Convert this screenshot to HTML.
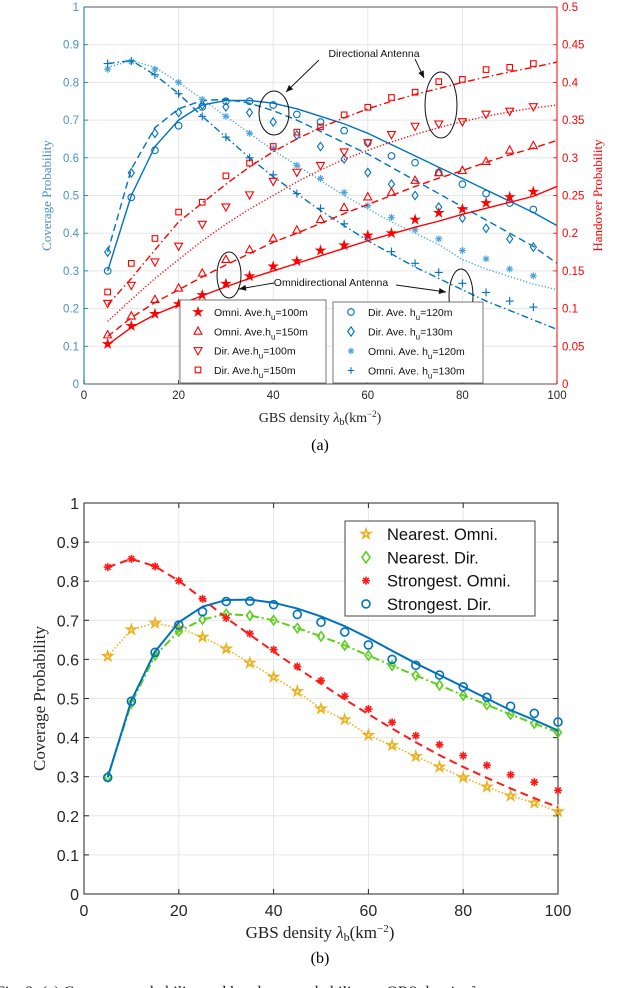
<!DOCTYPE html>
<html><head><meta charset="utf-8"><style>
body{margin:0;background:#fff;width:640px;height:988px;overflow:hidden}
svg{display:block}
</style></head><body>
<svg id="fig" width="640" height="988" xmlns="http://www.w3.org/2000/svg">
<rect width="640" height="988" fill="#fff"/>
<g id="top"></g>
<g id="bot"></g>
<text x="320" y="450" font-family="Liberation Serif, serif" font-size="16" text-anchor="middle">(a)</text>
<text x="320" y="963" font-family="Liberation Serif, serif" font-size="16" text-anchor="middle">(b)</text>
<text x="-4" y="997" font-family="Liberation Serif, serif" font-size="16" fill="#222">Fig. 2: (a) Coverage probability and handover probability vs GBS density λ, w</text>
</svg>
<script>
// ---------- data: chart (a) ----------
const xsA = [5,10,15,20,25,30,35,40,45,50,55,60,65,70,75,80,85,90,95];
const xsLine = [5,10,15,20,25,30,35,40,45,50,55,60,65,70,75,80,85,90,95,100];
const dir120Pts = [0.30,0.495,0.62,0.685,0.735,0.75,0.75,0.74,0.715,0.695,0.672,0.64,0.605,0.587,0.561,0.53,0.505,0.48,0.463];
const dir120Line = [0.30,0.50,0.63,0.70,0.74,0.752,0.752,0.745,0.73,0.71,0.69,0.665,0.635,0.605,0.575,0.545,0.515,0.485,0.455,0.42];
const dir130Pts = [0.35,0.56,0.665,0.72,0.74,0.735,0.72,0.695,0.66,0.63,0.597,0.561,0.53,0.5,0.469,0.44,0.413,0.385,0.363];
const dir130Line = [0.35,0.57,0.68,0.73,0.752,0.755,0.745,0.725,0.70,0.67,0.64,0.61,0.575,0.54,0.505,0.47,0.435,0.40,0.365,0.32];
const omni120Pts = [0.835,0.855,0.835,0.80,0.755,0.71,0.665,0.625,0.58,0.545,0.508,0.473,0.442,0.409,0.385,0.354,0.332,0.305,0.287];
const omni120Line = [0.84,0.858,0.84,0.80,0.755,0.71,0.665,0.62,0.58,0.54,0.50,0.465,0.43,0.40,0.37,0.33,0.305,0.285,0.265,0.25];
const omni130Pts = [0.85,0.857,0.82,0.77,0.71,0.655,0.60,0.555,0.505,0.466,0.425,0.39,0.351,0.32,0.296,0.267,0.243,0.22,0.204];
const omni130Line = [0.85,0.858,0.82,0.77,0.71,0.655,0.60,0.55,0.505,0.46,0.42,0.38,0.345,0.31,0.28,0.25,0.22,0.195,0.17,0.145];
const hoOmni100Pts = [0.053,0.077,0.093,0.106,0.118,0.133,0.143,0.156,0.163,0.177,0.184,0.197,0.2,0.218,0.227,0.232,0.24,0.248,0.255];
const hoOmni100Line = [0.052,0.075,0.092,0.105,0.117,0.129,0.14,0.15,0.16,0.17,0.18,0.19,0.199,0.208,0.216,0.225,0.233,0.241,0.249,0.262];
const hoOmni150Pts = [0.065,0.09,0.112,0.127,0.147,0.165,0.178,0.193,0.204,0.218,0.234,0.248,0.254,0.27,0.28,0.283,0.295,0.31,0.316];
const hoOmni150Line = [0.063,0.088,0.108,0.125,0.142,0.158,0.173,0.188,0.2,0.213,0.226,0.238,0.25,0.262,0.273,0.283,0.294,0.304,0.313,0.323];
const hoDir100Pts = [0.107,0.131,0.162,0.183,0.212,0.235,0.251,0.269,0.281,0.29,0.308,0.32,0.331,0.342,0.345,0.348,0.358,0.362,0.368];
const hoDir100Line = [0.083,0.112,0.14,0.165,0.19,0.212,0.232,0.25,0.268,0.284,0.298,0.31,0.321,0.331,0.34,0.348,0.355,0.361,0.366,0.37];
const hoDir150Pts = [0.122,0.16,0.193,0.228,0.241,0.276,0.293,0.315,0.334,0.341,0.357,0.367,0.38,0.387,0.401,0.404,0.417,0.42,0.425];
const hoDir150Line = [0.105,0.14,0.178,0.215,0.24,0.265,0.288,0.308,0.325,0.34,0.353,0.365,0.375,0.384,0.392,0.4,0.407,0.414,0.42,0.427];
const xTicks = [0,20,40,60,80,100];
const yTicksA = [0,0.1,0.2,0.3,0.4,0.5,0.6,0.7,0.8,0.9,1];
const yTicksR = [0,0.05,0.1,0.15,0.2,0.25,0.3,0.35,0.4,0.45,0.5];
// ---------- data: chart (b) ----------
const xsB = [5,10,15,20,25,30,35,40,45,50,55,60,65,70,75,80,85,90,95,100];
const nearOmniPts = [0.608,0.676,0.693,0.68,0.657,0.627,0.591,0.555,0.518,0.474,0.446,0.406,0.38,0.352,0.325,0.298,0.274,0.251,0.233,0.211];
const nearDirPts = [0.30,0.488,0.61,0.672,0.702,0.716,0.712,0.70,0.68,0.659,0.636,0.61,0.584,0.559,0.534,0.508,0.484,0.459,0.436,0.413];
const strOmniPts = [0.836,0.857,0.838,0.801,0.755,0.706,0.666,0.625,0.582,0.546,0.506,0.473,0.439,0.405,0.382,0.354,0.329,0.305,0.286,0.265];
const strOmniLine = [0.836,0.857,0.838,0.801,0.755,0.706,0.663,0.62,0.578,0.538,0.498,0.46,0.423,0.388,0.355,0.325,0.297,0.27,0.245,0.222];
const strDirPts = [0.298,0.493,0.618,0.688,0.722,0.748,0.749,0.74,0.715,0.695,0.67,0.637,0.60,0.585,0.56,0.53,0.503,0.48,0.462,0.44];
const strDirLine = [0.298,0.495,0.62,0.695,0.735,0.752,0.753,0.745,0.73,0.71,0.685,0.655,0.622,0.59,0.56,0.53,0.50,0.47,0.445,0.418];

const NS='http://www.w3.org/2000/svg';
function mk(parent,tag,attrs){const e=document.createElementNS(NS,tag);for(const k in attrs)e.setAttribute(k,attrs[k]);parent.appendChild(e);return e;}
function txt(parent,x,y,s,attrs){const e=mk(parent,'text',Object.assign({x:x,y:y},attrs));e.textContent=s;return e;}

function marker(g,type,x,y,s,col,lw){
  let e;
  if(type==='o'){e=mk(g,'circle',{cx:x,cy:y,r:s,fill:'none',stroke:col,'stroke-width':lw});}
  else if(type==='s'){e=mk(g,'rect',{x:x-s,y:y-s,width:2*s,height:2*s,fill:'none',stroke:col,'stroke-width':lw});}
  else if(type==='d'){e=mk(g,'polygon',{points:`${x},${y-s*1.4} ${x+s},${y} ${x},${y+s*1.4} ${x-s},${y}`,fill:'none',stroke:col,'stroke-width':lw});}
  else if(type==='^'){e=mk(g,'polygon',{points:`${x},${y-s*1.2} ${x+s*1.1},${y+s*0.8} ${x-s*1.1},${y+s*0.8}`,fill:'none',stroke:col,'stroke-width':lw});}
  else if(type==='v'){e=mk(g,'polygon',{points:`${x},${y+s*1.2} ${x+s*1.1},${y-s*0.8} ${x-s*1.1},${y-s*0.8}`,fill:'none',stroke:col,'stroke-width':lw});}
  else if(type==='p'||type==='P'){let pts=[];for(let i=0;i<10;i++){const r=i%2?s*0.45:s*1.2;const a=-Math.PI/2+i*Math.PI/5;pts.push((x+r*Math.cos(a)).toFixed(2)+','+(y+r*Math.sin(a)).toFixed(2));}
    e=mk(g,'polygon',{points:pts.join(' '),fill:type==='P'?col:'none',stroke:col,'stroke-width':lw});}
  else if(type==='+'){e=mk(g,'path',{d:`M${x-s},${y}H${x+s}M${x},${y-s}V${y+s}`,stroke:col,'stroke-width':lw,fill:'none'});}
  else if(type==='*'){let d='';for(let i=0;i<4;i++){const a=i*Math.PI/4;d+=`M${x-s*Math.cos(a)},${y-s*Math.sin(a)}L${x+s*Math.cos(a)},${y+s*Math.sin(a)}`;}
    e=mk(g,'path',{d:d,stroke:col,'stroke-width':lw,fill:'none'});}
  
  
  return e;
}

// ---------- chart (a) ----------
(function(){
  const g=document.getElementById('top');
  const L=84,R=557,T=7,B=384;
  const X=v=>L+(R-L)*v/100, Y=v=>B-(B-T)*v, YR=v=>B-(B-T)*v/0.5;
  const blue='#0072bd', red='#ff0000', tickBlue='#4a90c8';
  for(const t of xTicks){const l=mk(g,'line',{x1:X(t),x2:X(t),y1:T,y2:B,stroke:'#e6e6e6','stroke-width':1});}
  for(const t of yTicksA){const l=mk(g,'line',{x1:L,x2:R,y1:Y(t),y2:Y(t),stroke:'#e6e6e6','stroke-width':1});}
  const box=mk(g,'path',{d:`M${L},${T}H${R}M${L},${B}H${R}`,stroke:'#262626','stroke-width':0.8,fill:'none'});
  
  mk(g,'line',{x1:L,x2:L,y1:T,y2:B,stroke:blue,'stroke-width':1});
  mk(g,'line',{x1:R,x2:R,y1:T,y2:B,stroke:red,'stroke-width':1});
  for(const t of xTicks){
    const e=txt(g,X(t),B+15,String(t),{'font-family':'Liberation Sans, sans-serif','font-size':11.5,fill:'#262626','text-anchor':'middle'});
    
    mk(g,'line',{x1:X(t),x2:X(t),y1:B,y2:B-4,stroke:'#262626','stroke-width':0.8});
  }
  for(const t of yTicksA){
    const e=txt(g,L-5,Y(t)+4,String(t),{'font-family':'Liberation Sans, sans-serif','font-size':11.5,fill:tickBlue,'text-anchor':'end'});
    
    mk(g,'line',{x1:L,x2:L+4,y1:Y(t),y2:Y(t),stroke:blue,'stroke-width':0.8});
  }
  for(const t of yTicksR){
    const e=txt(g,R+5,YR(t)+4,String(t),{'font-family':'Liberation Sans, sans-serif','font-size':11.5,fill:red,'text-anchor':'start'});
    
    mk(g,'line',{x1:R,x2:R-4,y1:YR(t),y2:YR(t),stroke:red,'stroke-width':0.8});
  }
  let e=txt(g,0,0,'Coverage Probability',{'font-family':'Liberation Serif, serif','font-size':13,fill:tickBlue,'text-anchor':'middle',transform:`translate(51,${(T+B)/2}) rotate(-90)`});
  
  e=txt(g,0,0,'Handover Probability',{'font-family':'Liberation Serif, serif','font-size':13,fill:red,'text-anchor':'middle',transform:`translate(602,${(T+B)/2}) rotate(-90)`});
  
  e=txt(g,320,422,'',{'font-family':'Liberation Serif, serif','font-size':14,fill:'#222','text-anchor':'middle'});
  e.innerHTML='GBS density <tspan font-style="italic">λ</tspan><tspan font-size="10" dy="3">b</tspan><tspan dy="-3">(km</tspan><tspan font-size="9" dy="-5">−2</tspan><tspan dy="5">)</tspan>';
  

  const series=[
    {name:'dir-120',pts:dir120Pts,line:dir120Line,m:'o',c:blue,dash:'',y:Y,s:3.3},
    {name:'dir-130',pts:dir130Pts,line:dir130Line,m:'d',c:blue,dash:'7,4',y:Y,s:3},
    {name:'omni-120',pts:omni120Pts,line:omni120Line,m:'*',c:'#4aa3df',dash:'1.2,2',y:Y,s:3.5},
    {name:'omni-130',pts:omni130Pts,line:omni130Line,m:'+',c:blue,dash:'7,3,1.5,3',y:Y,s:4},
    {name:'ho-omni-100',pts:hoOmni100Pts,line:hoOmni100Line,m:'P',c:red,dash:'',y:YR,s:3.6},
    {name:'ho-omni-150',pts:hoOmni150Pts,line:hoOmni150Line,m:'^',c:red,dash:'7,4',y:YR,s:3.6},
    {name:'ho-dir-100',pts:hoDir100Pts,line:hoDir100Line,m:'v',c:red,dash:'1.2,2',y:YR,s:3.6},
    {name:'ho-dir-150',pts:hoDir150Pts,line:hoDir150Line,m:'s',c:red,dash:'7,3,1.5,3',y:YR,s:2.8}
  ];
  for(const s of series){
    const sg=mk(g,'g',{});
    
    
    const p=mk(sg,'polyline',{points:xsLine.map((x,i)=>X(x)+','+s.y(s.line[i])).join(' '),fill:'none',stroke:s.c,'stroke-width':1.4,'stroke-dasharray':s.dash});
    
    
    s.pts.forEach((v,i)=>marker(sg,s.m,X(xsA[i]),s.y(v),s.s,s.c,1.1));
  }
  // annotations
  const an=mk(g,'g',{'font-family':'Liberation Sans, sans-serif','font-size':10.5,fill:'#111'});
  
  e=txt(an,374,57,'Directional Antenna',{'text-anchor':'middle'});
  e=txt(an,331,286,'Omnidirectional Antenna',{'text-anchor':'middle'});
  const ell=[[274,113,15,22],[441,105,16,33],[229,275,12,23],[461,296,12,27]];
  for(const [cx,cy,rx,ry] of ell){const el=mk(an,'ellipse',{cx:cx,cy:cy,rx:rx,ry:ry,fill:'none',stroke:'#111','stroke-width':1});}
  const arrows=[[319,60,286,92],[415,59,424,78],[274,283,239,289],[396,285,446,292]];
  for(const [x1,y1,x2,y2] of arrows){
    mk(an,'line',{x1:x1,y1:y1,x2:x2,y2:y2,stroke:'#111','stroke-width':0.9});
    const a=Math.atan2(y2-y1,x2-x1),l=7,w=3;
    const bx=x2-l*Math.cos(a),by=y2-l*Math.sin(a);
    mk(an,'polygon',{points:`${x2},${y2} ${bx+w*Math.sin(a)},${by-w*Math.cos(a)} ${bx-w*Math.sin(a)},${by+w*Math.cos(a)}`,fill:'#111'});
  }
  // legends
  const lg1=mk(g,'g',{});
  mk(lg1,'rect',{x:180,y:300,width:146,height:83,fill:'#fff',stroke:'#555','stroke-width':0.8});
  const leg1=[['P','Omni. Ave.h','=100m'],['^','Omni. Ave.h','=150m'],['v','Dir. Ave.h','=100m'],['s','Dir. Ave.h','=150m']];
  leg1.forEach((r,i)=>{const yy=312+i*19.3;marker(lg1,r[0],198,yy,r[0]==='s'?2.8:3.6,red,1.1);
    const t=txt(lg1,214,yy+4,'',{'font-family':'Liberation Sans, sans-serif','font-size':10.5,fill:'#111'});
    t.innerHTML=r[1]+'<tspan font-size="8" dy="4">u</tspan><tspan dy="-4">'+r[2]+'</tspan>';
    });
  const lg2=mk(g,'g',{});
  mk(lg2,'rect',{x:333,y:302,width:150,height:81,fill:'#fff',stroke:'#555','stroke-width':0.8});
  const leg2=[['o','Dir. Ave. h','=120m',blue],['d','Dir. Ave. h','=130m',blue],['*','Omni. Ave. h','=120m','#4aa3df'],['+','Omni. Ave. h','=130m',blue]];
  leg2.forEach((r,i)=>{const yy=312+i*19.5;marker(lg2,r[0],351,yy,3.3,r[3],1.1);
    const t=txt(lg2,368,yy+4,'',{'font-family':'Liberation Sans, sans-serif','font-size':10.5,fill:'#111'});
    t.innerHTML=r[1]+'<tspan font-size="8" dy="4">u</tspan><tspan dy="-4">'+r[2]+'</tspan>';
    });
})();

// ---------- chart (b) ----------
(function(){
  const g=document.getElementById('bot');
  const L=84,R=558,T=503,B=894;
  const X=v=>L+(R-L)*v/100, Y=v=>B-(B-T)*v;
  for(const t of xTicks){const l=mk(g,'line',{x1:X(t),x2:X(t),y1:T,y2:B,stroke:'#e6e6e6','stroke-width':1});}
  for(const t of yTicksA){const l=mk(g,'line',{x1:L,x2:R,y1:Y(t),y2:Y(t),stroke:'#e6e6e6','stroke-width':1});}
  const fr=mk(g,'rect',{x:L,y:T,width:R-L,height:B-T,fill:'none',stroke:'#262626','stroke-width':1});
  
  for(const t of xTicks){
    const e=txt(g,X(t),B+22,String(t),{'font-family':'Liberation Sans, sans-serif','font-size':16,fill:'#262626','text-anchor':'middle'});
    
    mk(g,'line',{x1:X(t),x2:X(t),y1:B,y2:B-5,stroke:'#262626'});mk(g,'line',{x1:X(t),x2:X(t),y1:T,y2:T+5,stroke:'#262626'});
  }
  for(const t of yTicksA){
    const e=txt(g,L-5,Y(t)+6,String(t),{'font-family':'Liberation Sans, sans-serif','font-size':16,fill:'#262626','text-anchor':'end'});
    
    mk(g,'line',{x1:L,x2:L+5,y1:Y(t),y2:Y(t),stroke:'#262626'});mk(g,'line',{x1:R,x2:R-5,y1:Y(t),y2:Y(t),stroke:'#262626'});
  }
  let e=txt(g,0,0,'Coverage Probability',{'font-family':'Liberation Serif, serif','font-size':17,fill:'#262626','text-anchor':'middle',transform:`translate(45,${(T+B)/2}) rotate(-90)`});
  
  e=txt(g,320,938,'',{'font-family':'Liberation Serif, serif','font-size':17,fill:'#222','text-anchor':'middle'});
  e.innerHTML='GBS density <tspan font-style="italic">λ</tspan><tspan font-size="12" dy="3">b</tspan><tspan dy="-3">(km</tspan><tspan font-size="11" dy="-6">−2</tspan><tspan dy="6">)</tspan>';
  
  const orange='#edb120',green='#5fcf1f',red='#ff1a1a',blue='#0072bd';
  const series=[
    {name:'nearest-omni',pts:nearOmniPts,line:nearOmniPts,m:'p',c:orange,dash:'1.5,2',w:1.6,s:4},
    {name:'nearest-dir',pts:nearDirPts,line:nearDirPts,m:'d',c:green,dash:'8,3,2,3',w:2,s:3.3},
    {name:'strongest-omni',pts:strOmniPts,line:strOmniLine,m:'*',c:red,dash:'8,5',w:2,s:4},
    {name:'strongest-dir',pts:strDirPts,line:strDirLine,m:'o',c:blue,dash:'',w:2,s:4}
  ];
  for(const s of series){
    const sg=mk(g,'g',{});
    
    
    const p=mk(sg,'polyline',{points:xsB.map((x,i)=>X(x)+','+Y(s.line[i])).join(' '),fill:'none',stroke:s.c,'stroke-width':s.w,'stroke-dasharray':s.dash});
    
    
    s.pts.forEach((v,i)=>marker(sg,s.m,X(xsB[i]),Y(v),s.s,s.c,1.6));
  }
  const lg=mk(g,'g',{});
  mk(lg,'rect',{x:345,y:521,width:190,height:95,fill:'#fff',stroke:'#444','stroke-width':1});
  const leg=[['p','Nearest. Omni.',orange],['d','Nearest. Dir.',green],['*','Strongest. Omni.',red],['o','Strongest. Dir.',blue]];
  leg.forEach((r,i)=>{const yy=534+i*23.3;marker(lg,r[0],366,yy,4,r[2],1.6);
    const t=txt(lg,387,yy+6,r[1],{'font-family':'Liberation Sans, sans-serif','font-size':16.5,fill:'#111'});
    });
})();
</script>
</body></html>
